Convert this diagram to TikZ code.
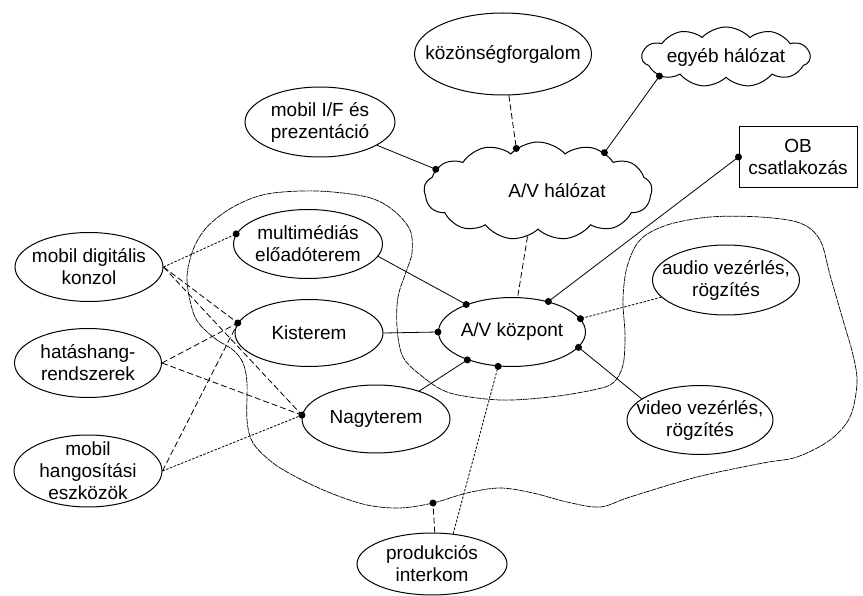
\documentclass[tikz,border=0pt]{standalone}
\usepackage{fontspec}
\setmainfont{Liberation Sans}
\usetikzlibrary{shapes.geometric,shapes.symbols}
\begin{document}
\begin{tikzpicture}[x=1pt,y=-1pt,
  every node/.style={font=\fontsize{19}{22}\selectfont, align=center},
  ell/.style={draw, ellipse, line width=1pt, inner sep=0pt},
  cld/.style={draw, cloud, cloud ignores aspect, line width=1pt, inner sep=0pt},
  boxnode/.style={draw, rectangle, line width=1pt, inner sep=0pt},
  conn/.style={line width=0.8pt},
  dsh/.style={line width=0.8pt, dash pattern=on 6pt off 3pt},
  dtd/.style={line width=0.8pt, dash pattern=on 2.5pt off 1.5pt},
  zone/.style={line width=0.7pt, dash pattern=on 6pt off 0.8pt}]
\useasboundingbox (0,0) rectangle (863,596);

% zone curve
\draw[zone] plot[smooth cycle, tension=0.55] coordinates {
(187,280) (193,250) (207,227) (233,207) (267,194) (317,191) (367,197) (393,210)
(410,230) (412,253) (406,272) (398,297) (397,327) (403,357) (423,377) (450,393)
(500,400) (550,397) (593,390) (613,383) (623,365) (625,335) (623,300) (627,267)
(640,240) (667,225) (710,217) (760,217) (800,223) (820,240) (830,275) (843,320)
(853,355) (857,383) (850,417) (830,440) (797,457) (763,463) (697,477) (630,497)
(600,507) (567,502) (533,493) (500,488) (467,493) (433,503) (400,508) (367,505)
(333,494) (300,479) (273,463) (253,443) (247,420) (247,383) (243,363) (233,350)
(213,337) (195,317)};
\coordinate (cdot) at (433,503);

% nodes
\node[ell, minimum width=177pt, minimum height=82pt, label=center:{közönségforgalom}] (koz) at (503,54) {};
\node[cld, cloud puffs=11, cloud puff arc=95, minimum width=168pt, minimum height=60pt, label=center:{egyéb hálózat}] (egy) at (726,57) {};
\node[ell, minimum width=150pt, minimum height=70pt, label=center:{mobil I/F és\\prezentáció}] (mif) at (320,122) {};
\node[cld, cloud puffs=13, cloud puff arc=95, minimum width=228pt, minimum height=98pt, label={[xshift=19pt]center:A/V hálózat}] (avh) at (538,191) {};
\node[boxnode, minimum width=118pt, minimum height=61pt] (ob) at (798,157) {OB\\csatlakozás};
\node[ell, minimum width=149pt, minimum height=69pt, label=center:{multimédiás\\előadóterem}] (mm) at (308,244) {};
\node[ell, minimum width=148pt, minimum height=69pt, label=center:{mobil digitális\\konzol}] (mdk) at (89,267) {};
\node[ell, minimum width=148pt, minimum height=67pt, label=center:{Kisterem}] (kis) at (309,333) {};
\node[ell, minimum width=147pt, minimum height=69pt, label=center:{A/V központ}] (avk) at (512,332) {};
\node[ell, minimum width=147pt, minimum height=70pt, label=center:{audio vezérlés,\\rögzítés}] (aud) at (726,280) {};
\node[ell, minimum width=147pt, minimum height=69pt, label=center:{hatáshang-\\rendszerek}] (hat) at (88,363) {};
\node[ell, minimum width=148pt, minimum height=68pt, label=center:{Nagyterem}] (nag) at (376,419) {};
\node[ell, minimum width=146pt, minimum height=69pt, label=center:{video vezérlés,\\rögzítés}] (vid) at (700,420) {};
\node[ell, minimum width=148pt, minimum height=72pt, label=center:{mobil\\hangosítási\\eszközök}] (mhe) at (88,471) {};
\node[ell, minimum width=150pt, minimum height=62pt, label=center:{produkciós\\interkom}] (pro) at (432,564) {};

% connection points
\coordinate (h1) at (avh.117);
\coordinate (h2) at (avh.30);
\coordinate (h3) at (avh.168);
\coordinate (h4) at (avh.257);
\coordinate (e1) at (egy.196);
\coordinate (o1) at (ob.west);
\coordinate (k1) at (avk.40);
\coordinate (k2) at (avk.149);
\coordinate (k3) at (avk.west);
\coordinate (k4) at (avk.212);
\coordinate (k5) at (avk.248);
\coordinate (k6) at (avk.11);
\coordinate (k7) at (avk.347);
\coordinate (m1) at (mm.172);
\coordinate (s1) at (kis.172);
\coordinate (n1) at (nag.177);

% connectors
\draw[dsh] (koz) -- (h1);
\draw[conn] (mif) -- (h3);
\draw[conn] (e1) -- (h2);
\draw[conn] (o1) -- (k1);
\draw[dsh] (h4) -- (avk);
\draw[conn] (mm.350) -- (k2);
\draw[conn] (kis.east) -- (k3);
\draw[conn] (nag) -- (k4);
\draw[dtd] (pro.55) -- (k5);
\draw[dtd] (aud) -- (k6);
\draw[conn] (vid.160) -- (k7);
\draw[dsh] (pro.85) -- (cdot);

\draw[dtd] (mdk.east) -- (m1);
\draw[dsh] (mdk.east) -- (s1);
\draw[dsh] (mdk.east) -- (n1);
\draw[dsh] (hat.east) -- (s1);
\draw[dsh] (hat.east) -- (n1);
\draw[dsh] (mhe.east) -- (s1);
\draw[dtd] (mhe.east) -- (n1);

% dots
\foreach \p in {h1,h2,h3,e1,o1,k1,k2,k3,k4,k5,k6,k7,m1,s1,n1,cdot}
  \fill (\p) circle (3.5pt);
\end{tikzpicture}
\end{document}
